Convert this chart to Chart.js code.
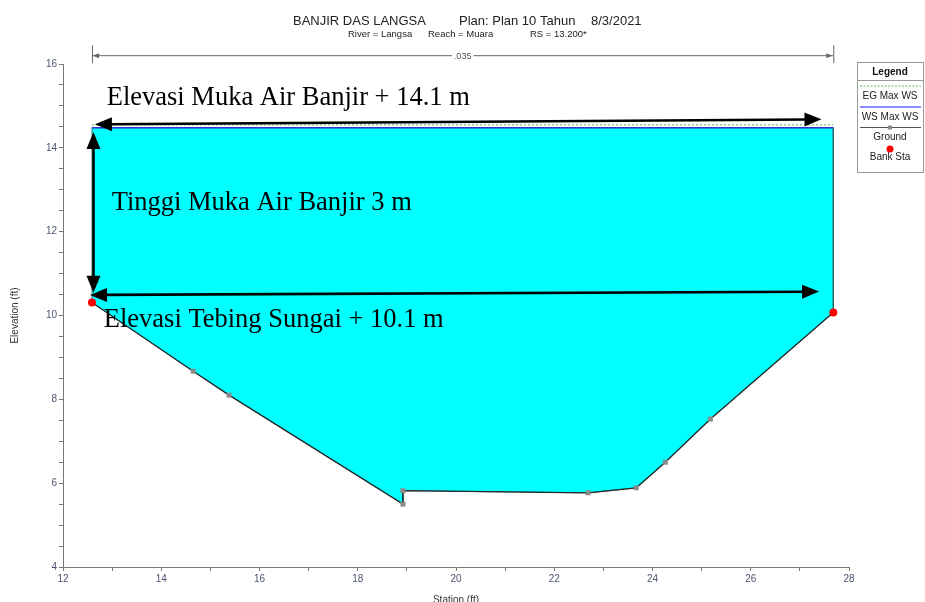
<!DOCTYPE html>
<html>
<head>
<meta charset="utf-8">
<title>Banjir DAS Langsa - Cross Section RS 13.200</title>
<script src="https://cdn.jsdelivr.net/npm/chart.js@4.4.1/dist/chart.umd.min.js"></script>
<style>
  html, body { margin: 0; padding: 0; background: #fff; }
  #wrap { position: relative; width: 925px; height: 602px; }
</style>
</head>
<body>
<div id="wrap"><canvas id="xsChart"></canvas></div>
<script>
// Cross section RS 13.200 (River Langsa, Reach Muara), plan 10 tahun

// Ground profile: station (ft) and elevation (ft)
const groundSta  = [12.59, 14.65, 15.38, 18.92, 18.92, 22.69, 23.67, 24.26, 25.18, 27.68];
const groundElev = [10.31, 8.67, 8.10, 5.50, 5.82, 5.77, 5.89, 6.50, 7.53, 10.07];

// Bank stations
const bankSta  = [12.59, 27.68];
const bankElev = [10.31, 10.07];

// Max water surface and energy grade
const wsMax = 14.48;
const egMax = 14.55;
const manningN = ".035";

// Labelled ticks
const xTicks = [12, 14, 16, 18, 20, 22, 24, 26, 28];
const yTicks = [4, 6, 8, 10, 12, 14, 16];

// Annotation texts and dimension arrows (in station / elevation units)
const noteText = ["Elevasi Muka Air Banjir + 14.1 m", "Tinggi Muka Air Banjir 3 m", "Elevasi Tebing Sungai + 10.1 m"];
const noteSta  = [12.89, 12.99, 12.83];
const noteElev = [15.02, 12.52, 9.73];
const arrowFrom = [[12.65, 14.56], [12.62, 14.38], [12.55, 10.49]];
const arrowTo   = [[27.44, 14.68], [12.62, 10.54], [27.39, 10.57]];

const ground = groundSta.map((x, i) => ({ x, y: groundElev[i] }));
const banks = bankSta.map((x, i) => ({ x, y: bankElev[i] }));
const waterShape = [{ x: bankSta[0], y: wsMax }, { x: bankSta[1], y: wsMax }]
  .concat(ground.slice().reverse())
  .concat([{ x: bankSta[0], y: wsMax }]);

const SANS = "'Liberation Sans', Arial, sans-serif";
const SERIF = "'Liberation Serif', 'Times New Roman', serif";

function arrowHead(ctx, x0, y0, x1, y1, len, half) {
  const a = Math.atan2(y1 - y0, x1 - x0);
  ctx.beginPath();
  ctx.moveTo(x1, y1);
  ctx.lineTo(x1 - len * Math.cos(a) + half * Math.sin(a), y1 - len * Math.sin(a) - half * Math.cos(a));
  ctx.lineTo(x1 - len * Math.cos(a) - half * Math.sin(a), y1 - len * Math.sin(a) + half * Math.cos(a));
  ctx.closePath();
  ctx.fill();
}

function doubleArrow(ctx, x0, y0, x1, y1, len, half, width) {
  const a = Math.atan2(y1 - y0, x1 - x0);
  ctx.lineWidth = width;
  ctx.beginPath();
  ctx.moveTo(x0 + (len - 2) * Math.cos(a), y0 + (len - 2) * Math.sin(a));
  ctx.lineTo(x1 - (len - 2) * Math.cos(a), y1 - (len - 2) * Math.sin(a));
  ctx.stroke();
  arrowHead(ctx, x1, y1, x0, y0, len, half);
  arrowHead(ctx, x0, y0, x1, y1, len, half);
}

// Titles, n-value bar, annotations and the legend box
const decorations = {
  id: "decorations",
  afterDraw(chart) {
    const { ctx, chartArea, scales } = chart;
    const xs = scales.x, ys = scales.y;
    ctx.save();

    // header
    ctx.fillStyle = "#222";
    ctx.textBaseline = "alphabetic";
    ctx.textAlign = "left";
    ctx.font = "13px " + SANS;
    ctx.fillText("BANJIR DAS LANGSA", 293, 25);
    ctx.fillText("Plan: Plan 10 Tahun", 459, 25);
    ctx.fillText("8/3/2021", 591, 25);
    ctx.font = "9.5px " + SANS;
    ctx.fillText("River = Langsa", 348, 37);
    ctx.fillText("Reach = Muara", 428, 37);
    ctx.fillText("RS = 13.200*", 530, 37);

    // axis titles
    ctx.font = "10px " + SANS;
    ctx.fillStyle = "#333";
    ctx.textAlign = "center";
    ctx.textBaseline = "middle";
    ctx.fillText("Station (ft)", (chartArea.left + chartArea.right) / 2, 600);
    ctx.save();
    ctx.translate(15, (chartArea.top + chartArea.bottom) / 2);
    ctx.rotate(-Math.PI / 2);
    ctx.fillText("Elevation (ft)", 0, 0);
    ctx.restore();

    // Manning n bar between the bank stations
    const nx0 = xs.getPixelForValue(bankSta[0]);
    const nx1 = xs.getPixelForValue(bankSta[1]);
    const ny = ys.getPixelForValue(16.21);
    ctx.strokeStyle = "#666";
    ctx.fillStyle = "#666";
    ctx.lineWidth = 1;
    ctx.beginPath();
    ctx.moveTo(nx0 + 0.5, ny - 10); ctx.lineTo(nx0 + 0.5, ny + 8);
    ctx.moveTo(nx1 + 0.5, ny - 10); ctx.lineTo(nx1 + 0.5, ny + 8);
    ctx.moveTo(nx0, ny + 0.5); ctx.lineTo(nx1, ny + 0.5);
    ctx.stroke();
    arrowHead(ctx, nx0 + 10, ny + 0.5, nx0 + 1, ny + 0.5, 6, 2.5);
    arrowHead(ctx, nx1 - 10, ny + 0.5, nx1 - 1, ny + 0.5, 6, 2.5);
    ctx.font = "9px " + SANS;
    const nw = ctx.measureText(manningN).width;
    const nmid = (nx0 + nx1) / 2;
    ctx.fillStyle = "#fff";
    ctx.fillRect(nmid - nw / 2 - 2, ny - 5, nw + 4, 10);
    ctx.fillStyle = "#555";
    ctx.textAlign = "center";
    ctx.fillText(manningN, nmid, ny + 1);

    // annotation arrows
    ctx.strokeStyle = "#000";
    ctx.fillStyle = "#000";
    arrowFrom.forEach((p, i) => {
      const q = arrowTo[i];
      doubleArrow(ctx,
        xs.getPixelForValue(p[0]), ys.getPixelForValue(p[1]),
        xs.getPixelForValue(q[0]), ys.getPixelForValue(q[1]),
        17, 7, 2.6);
    });

    // annotation texts
    ctx.font = "26.5px " + SERIF;
    ctx.textAlign = "left";
    ctx.textBaseline = "alphabetic";
    noteText.forEach((t, i) => {
      ctx.fillText(t, xs.getPixelForValue(noteSta[i]), ys.getPixelForValue(noteElev[i]));
    });

    // legend box
    const lx = chart.width - 68, ly = 62, lw = 66, lh = 110;
    ctx.fillStyle = "#fff";
    ctx.fillRect(lx, ly, lw, lh);
    ctx.strokeStyle = "#999";
    ctx.lineWidth = 1;
    ctx.strokeRect(lx + 0.5, ly + 0.5, lw, lh);
    ctx.beginPath();
    ctx.moveTo(lx, ly + 18.5); ctx.lineTo(lx + lw, ly + 18.5);
    ctx.stroke();
    ctx.fillStyle = "#111";
    ctx.textAlign = "center";
    ctx.font = "bold 10px " + SANS;
    ctx.fillText("Legend", lx + lw / 2, ly + 13);
    ctx.font = "10px " + SANS;
    const cx = lx + lw / 2;
    // EG
    ctx.strokeStyle = "#8fd08f";
    ctx.setLineDash([2, 1.5]);
    ctx.lineWidth = 1.5;
    ctx.beginPath(); ctx.moveTo(lx + 3, ly + 24); ctx.lineTo(lx + lw - 2, ly + 24); ctx.stroke();
    ctx.setLineDash([]);
    ctx.fillStyle = "#222";
    ctx.fillText("EG Max WS", cx, ly + 37);
    // WS
    ctx.strokeStyle = "#8a8aff";
    ctx.lineWidth = 2;
    ctx.beginPath(); ctx.moveTo(lx + 3, ly + 45); ctx.lineTo(lx + lw - 2, ly + 45); ctx.stroke();
    ctx.fillText("WS Max WS", cx, ly + 58);
    // Ground
    ctx.strokeStyle = "#555";
    ctx.lineWidth = 1;
    ctx.beginPath(); ctx.moveTo(lx + 3, ly + 65.5); ctx.lineTo(lx + lw - 2, ly + 65.5); ctx.stroke();
    ctx.fillStyle = "#8a8a8a";
    ctx.fillRect(cx - 2, ly + 63.5, 4, 4);
    ctx.fillStyle = "#222";
    ctx.fillText("Ground", cx, ly + 78);
    // Bank Sta
    ctx.fillStyle = "#ff0000";
    ctx.beginPath(); ctx.arc(cx, ly + 87, 3.5, 0, Math.PI * 2); ctx.fill();
    ctx.fillStyle = "#222";
    ctx.fillText("Bank Sta", cx, ly + 98);

    ctx.restore();
  }
};

const tickFont = { family: SANS, size: 10 };

new Chart(document.getElementById("xsChart"), {
  type: "line",
  data: {
    datasets: [
      {
        label: "Bank Sta",
        data: banks,
        showLine: false,
        pointRadius: 4,
        pointBackgroundColor: "#ff0000",
        pointBorderWidth: 0
      },
      {
        label: "Ground",
        data: ground,
        borderColor: "#222a2a",
        borderWidth: 1.3,
        pointStyle: "rect",
        pointRadius: 3.5,
        pointBackgroundColor: "#8a8a8a",
        pointBorderWidth: 0,
        fill: false
      },
      {
        label: "WS Max WS",
        data: bankSta.map(x => ({ x, y: wsMax })),
        borderColor: "#3434d6",
        borderWidth: 1.5,
        pointRadius: 0,
        fill: false
      },
      {
        label: "EG Max WS",
        data: bankSta.map(x => ({ x, y: egMax })),
        borderColor: "#8fd08f",
        borderDash: [2, 2],
        borderWidth: 1.5,
        pointRadius: 0,
        fill: false
      },
      {
        label: "Water",
        data: waterShape,
        fill: "shape",
        backgroundColor: "#00ffff",
        borderColor: "rgba(40,90,90,0.8)",
        borderWidth: 1,
        pointRadius: 0
      }
    ]
  },
  options: {
    responsive: true,
    maintainAspectRatio: false,
    animation: false,
    layout: { padding: { top: 64, right: 76, left: 0, bottom: 0 } },
    plugins: {
      legend: { display: false },
      tooltip: { enabled: false },
      title: { display: false }
    },
    elements: { line: { tension: 0 } },
    scales: {
      x: {
        type: "linear",
        min: 12,
        max: 28,
        afterFit(scale) { scale.height = 35; },
        border: { color: "#777", width: 1 },
        grid: { drawOnChartArea: false, drawTicks: true, tickLength: 4, color: "#777" },
        ticks: {
          stepSize: 1,
          autoSkip: false,
          maxRotation: 0,
          padding: 2,
          color: "#4b5370",
          font: tickFont,
          callback: v => (xTicks.includes(v) ? v : "")
        }
      },
      y: {
        type: "linear",
        min: 4,
        max: 16,
        afterFit(scale) { scale.width = 63; },
        border: { color: "#777", width: 1 },
        grid: { drawOnChartArea: false, drawTicks: true, tickLength: 4, color: "#777" },
        ticks: {
          stepSize: 0.5,
          autoSkip: false,
          padding: 2,
          color: "#4b5370",
          font: tickFont,
          callback: v => (yTicks.includes(v) ? v : "")
        }
      }
    }
  },
  plugins: [decorations]
});
</script>
</body>
</html>
